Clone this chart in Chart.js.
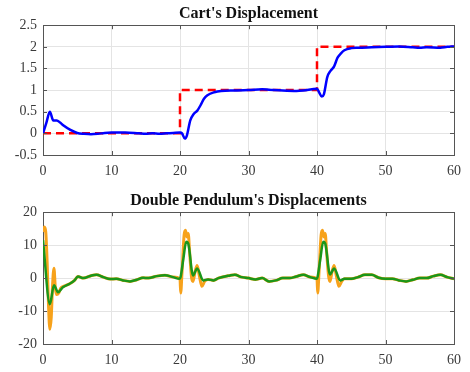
<!DOCTYPE html>
<html>
<head>
<meta charset="utf-8">
<script src="https://cdn.jsdelivr.net/npm/chart.js@4/dist/chart.umd.min.js"></script>
<style>
  html, body { margin: 0; padding: 0; background: #ffffff; }
  #wrap { position: relative; width: 470px; height: 372px; }
  .box { position: absolute; left: 0; width: 470px; }
  #top { top: 0; height: 185px; }
  #bottom { top: 185px; height: 187px; }
</style>
</head>
<body>
<div id="wrap">
  <div class="box" id="top"><canvas id="cart"></canvas></div>
  <div class="box" id="bottom"><canvas id="pend"></canvas></div>
</div>
<script>
// Cart position: reference steps and measured response
const refX = [0, 20, 20, 40, 40, 60];
const refY = [0, 0, 1, 1, 2, 2];

const cartX = [0, 0.5, 1, 1.5, 2, 2.5, 3, 4, 5, 6, 7, 8, 9, 10, 12, 14, 15, 16, 17, 18, 19, 20,
  20.3, 20.7, 21, 21.5, 22, 22.5, 23, 23.5, 24, 25, 26, 28, 30, 32, 33, 35, 37, 38, 40,
  40.3, 40.7, 41, 41.5, 42, 42.5, 43, 43.5, 44, 45, 46, 48, 50, 52, 54, 55, 56, 58, 59, 60];
const cartY = [0, 0.25, 0.5, 0.3, 0.3, 0.25, 0.18, 0.08, 0.01, -0.01, -0.02, -0.01, 0.01, 0.02, 0.02, 0.0, -0.01, 0, -0.01, 0, 0.01, 0.02,
  0.0, -0.12, -0.05, 0.3, 0.45, 0.52, 0.65, 0.8, 0.88, 0.95, 0.98, 0.99, 1.0, 1.02, 1.01, 0.99, 0.98, 0.99, 1.03,
  0.95, 0.85, 0.9, 1.3, 1.45, 1.55, 1.75, 1.85, 1.92, 1.97, 1.98, 1.99, 2.0, 2.01, 1.99, 1.98, 1.99, 1.98, 2.0, 2.01];
const cartTicks = [-0.5, 0, 0.5, 1, 1.5, 2, 2.5];

// Pendulum link angles
const link1X = [0, 1, 1.6, 2.2, 2.9, 3.9, 4.6, 5.1, 5.9, 7.1, 7.8, 8.8, 9.8, 10.7, 11.7, 12.7, 13.7, 14.6, 15.4, 16.6, 17.8, 19, 19.9,
  20.1, 20.5, 20.9, 21.2, 21.9, 22.5, 23.4, 24.1, 24.9, 25.6, 27.3, 28, 29, 30, 31, 32, 33, 34, 35, 36, 37, 38, 39, 40,
  40.1, 40.5, 40.9, 41.2, 41.9, 42.5, 43.4, 44, 45, 46, 47, 48, 49, 50, 51, 52, 53, 54, 55, 56, 57, 58, 59, 60];
const link1Y = [11.5, -7.9, -2.2, -4.3, -2.8, -1.7, -0.7, 0.5, 0, 0.8, 1.0, 0.3, -0.3, -0.2, -0.7, -1.0, -0.5, 0.1, 0, 0.6, 0.9, 0.3, -0.2,
  0.5, 6, 11, 10.5, 0.8, 2.9, -0.7, -0.4, -0.7, 0, 0.8, 1.0, 0.3, 0, -0.4, 0, -1.0, -0.7, 0, 0, 0.5, 1.0, 0.3, -0.2,
  0.5, 6, 11, 10.5, 1.1, 2.9, -0.7, -0.2, -0.2, 0.3, 1.0, 1.0, 0.1, -0.2, -0.2, -0.7, -1.0, -0.5, 0, 0, 0.6, 1.0, 0.3, -0.2];

const link2X = [0, 0.2, 0.4, 0.6, 0.8, 1.0, 1.2, 1.4, 1.6, 1.8, 2.0, 2.3, 2.6, 3.0, 3.9, 4.6, 5.1, 5.9, 7.1, 7.8, 8.8, 9.8, 10.7, 11.7, 12.7, 13.7, 14.6, 15.4, 16.6, 17.8, 19, 20,
  20.1, 20.3, 20.6, 20.8, 21.0, 21.2, 21.4, 21.7, 21.9, 22.2, 22.5, 22.8, 23.2, 23.6, 24.1, 24.9, 25.6, 27.3, 28, 29, 30, 31, 32, 33, 34, 35, 36, 37, 38, 39, 40,
  40.1, 40.3, 40.6, 40.8, 41.0, 41.2, 41.4, 41.7, 41.9, 42.2, 42.5, 42.8, 43.2, 43.6, 44, 45, 46, 47, 48, 49, 50, 51, 52, 53, 54, 55, 56, 57, 58, 59, 60];
const link2Y = [14, 15.5, 14, 5, -8, -15.5, -12, -2, 3, -3, -5, -4.5, -3, -2.5, -1.7, -0.7, 0.5, 0, 0.8, 1.0, 0.3, -0.3, -0.2, -0.7, -1.0, -0.5, 0.1, 0, 0.6, 0.9, 0.3, -0.2,
  -4.5, 2, 13, 14.5, 12.5, 13.5, 8, 0, -1, 2, 3.8, 1, -2.5, -1, -0.4, -0.7, 0, 0.8, 1.0, 0.3, 0, -0.4, 0, -1.0, -0.7, 0, 0, 0.5, 1.0, 0.3, -0.2,
  -4.5, 2, 13, 14.5, 12.5, 13.5, 8, 0.5, -1, 2, 3.8, 1, -2.5, -1, -0.2, -0.2, 0.3, 1.0, 1.0, 0.1, -0.2, -0.2, -0.7, -1.0, -0.5, 0, 0, 0.6, 1.0, 0.3, -0.2];
const pendTicks = [-20, -10, 0, 10, 20];

const xTicks = [0, 10, 20, 30, 40, 50, 60];

const pts = (xs, ys) => xs.map((x, i) => ({ x: x, y: ys[i] }));

const serif = "'Liberation Serif', 'DejaVu Serif', serif";
const tickFont = { family: serif, size: 14 };

function axes(yMin, yMax, yTicks, xAxisHeight) {
  return {
    x: {
      type: 'linear', min: 0, max: 60,
      afterBuildTicks: s => { s.ticks = xTicks.map(v => ({ value: v })); },
      ticks: { font: tickFont, color: '#3a3a3a', padding: 8, maxRotation: 0,
        callback: v => String(v) },
      grid: { color: '#e4e4e4', lineWidth: 1, drawTicks: false },
      border: { color: '#555555', width: 1 },
      afterFit: s => { s.height = xAxisHeight; }
    },
    y: {
      type: 'linear', min: yMin, max: yMax,
      afterBuildTicks: s => { s.ticks = yTicks.map(v => ({ value: v })); },
      ticks: { font: tickFont, color: '#3a3a3a', padding: 6,
        callback: v => String(v) },
      grid: { color: '#e4e4e4', lineWidth: 1, drawTicks: false },
      border: { color: '#555555', width: 1 },
      afterFit: s => { s.width = 43; }
    },
    x2: {
      type: 'linear', position: 'top', min: 0, max: 60,
      ticks: { display: false }, grid: { display: false, drawTicks: false },
      border: { color: '#555555', width: 1 }
    },
    y2: {
      type: 'linear', position: 'right', min: yMin, max: yMax,
      ticks: { display: false }, grid: { display: false, drawTicks: false },
      border: { color: '#555555', width: 1 }
    }
  };
}

// Small inward tick marks along the frame edges
const innerTicks = {
  id: 'innerTicks',
  afterDraw(chart) {
    const { ctx, chartArea: a, scales } = chart;
    ctx.save();
    ctx.strokeStyle = '#555555';
    ctx.lineWidth = 1;
    ctx.beginPath();
    scales.x.ticks.forEach(t => {
      const px = Math.round(scales.x.getPixelForValue(t.value)) + 0.5;
      ctx.moveTo(px, a.bottom); ctx.lineTo(px, a.bottom - 4);
      ctx.moveTo(px, a.top); ctx.lineTo(px, a.top + 4);
    });
    scales.y.ticks.forEach(t => {
      const py = Math.round(scales.y.getPixelForValue(t.value)) + 0.5;
      ctx.moveTo(a.left, py); ctx.lineTo(a.left + 4, py);
      ctx.moveTo(a.right, py); ctx.lineTo(a.right - 4, py);
    });
    ctx.stroke();
    ctx.restore();
  }
};

function titleOpts(text, padTop, padBottom) {
  return {
    display: true, text: text, fullSize: false, color: '#111111',
    font: { family: serif, size: 16, weight: 'bold', lineHeight: 1.2 },
    padding: { top: padTop, bottom: padBottom }
  };
}

new Chart(document.getElementById('cart'), {
  type: 'line',
  data: {
    datasets: [
      {
        data: pts(refX, refY), borderColor: '#ff0000', borderWidth: 2.5,
        borderDash: [8, 5], pointRadius: 0, tension: 0, order: 2
      },
      {
        data: pts(cartX, cartY), borderColor: '#0000ff', borderWidth: 2.5,
        pointRadius: 0, cubicInterpolationMode: 'monotone', order: 1
      }
    ]
  },
  options: {
    responsive: true, maintainAspectRatio: false, animation: false,
    layout: { padding: { left: 0, right: 16, top: 0, bottom: 0 } },
    plugins: { legend: { display: false }, tooltip: { enabled: false },
      title: titleOpts("Cart's Displacement", 4, 2) },
    scales: axes(-0.5, 2.5, cartTicks, 30)
  },
  plugins: [innerTicks]
});

new Chart(document.getElementById('pend'), {
  type: 'line',
  data: {
    datasets: [
      {
        data: pts(link2X, link2Y), borderColor: '#f7a21b', borderWidth: 3,
        pointRadius: 0, cubicInterpolationMode: 'monotone', order: 2
      },
      {
        data: pts(link1X, link1Y), borderColor: '#1a961a', borderWidth: 2.5,
        pointRadius: 0, cubicInterpolationMode: 'monotone', order: 1
      }
    ]
  },
  options: {
    responsive: true, maintainAspectRatio: false, animation: false,
    layout: { padding: { left: 0, right: 16, top: 0, bottom: 0 } },
    plugins: { legend: { display: false }, tooltip: { enabled: false },
      title: titleOpts("Double Pendulum's Displacements", 6, 2) },
    scales: axes(-20, 20, pendTicks, 28)
  },
  plugins: [innerTicks]
});
</script>
</body>
</html>
